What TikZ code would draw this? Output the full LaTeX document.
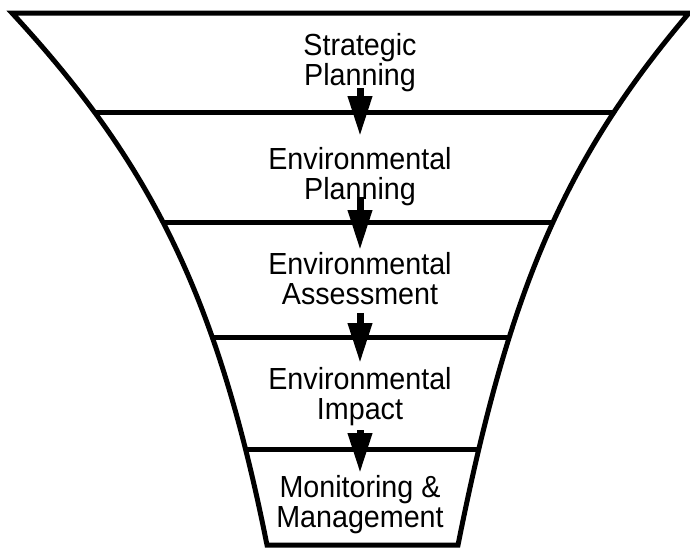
\documentclass[tikz,border=0pt]{standalone}
\usepackage{fontspec}
\setmainfont{Liberation Sans}[FakeStretch=0.94]
\usetikzlibrary{arrows.meta}

\tikzset{
  rim/.style={line width=5pt},
  stage/.style={anchor=north, align=center, inner sep=0pt,
    font=\fontsize{30.5}{30}\selectfont},
  flow/.style={line width=7pt, -{Triangle[length=40pt,width=23pt]}}
}

\begin{document}
\begin{tikzpicture}[x=1pt,y=-1pt]
  \useasboundingbox (0,0) rectangle (690,549);
  % corners of the funnel
  \coordinate (l0) at (12,13);  \coordinate (r0) at (689,13);
  \coordinate (l5) at (267,545); \coordinate (r5) at (458,545);
  % points on the sides where the stages meet
  \path (l0) .. controls (150.5,163) and (217,295) .. (l5)
    coordinate[pos=0.2228] (l1) coordinate[pos=0.4605] (l2)
    coordinate[pos=0.6815] (l3) coordinate[pos=0.8645] (l4);
  \path (r0) .. controls (561.5,163) and (508,295) .. (r5)
    coordinate[pos=0.2228] (r1) coordinate[pos=0.4605] (r2)
    coordinate[pos=0.6815] (r3) coordinate[pos=0.8645] (r4);

  \draw[rim] (l0) -- (r0) .. controls (561.5,163) and (508,295) .. (r5)
    -- (l5) .. controls (217,295) and (150.5,163) .. (l0) -- cycle;
  \draw[rim] (l1) -- (r1);
  \draw[rim] (l2) -- (r2);
  \draw[rim] (l3) -- (r3);
  \draw[rim] (l4) -- (r4);

  \node[stage] (t1) at (360,33) {Strategic\\Planning};
  \node[stage] (t2) at (360,147) {Environmental\\Planning};
  \node[stage] (t3) at (360,252) {Environmental\\Assessment};
  \node[stage] (t4) at (360,367) {Environmental\\Impact};
  \node[stage] (t5) at (360,475) {Monitoring \&\\Management};

  \draw[flow, shorten <=-3.4pt, shorten >=11pt] (t1) -- (t2);
  \draw[flow, shorten <=-8.4pt, shorten >=2pt] (t2) -- (t3);
  \draw[flow, shorten <=8pt, shorten >=4pt] (t3) -- (t4);
  \draw[flow, shorten <=4.6pt, shorten >=2pt] (t4) -- (t5);
\end{tikzpicture}
\end{document}
